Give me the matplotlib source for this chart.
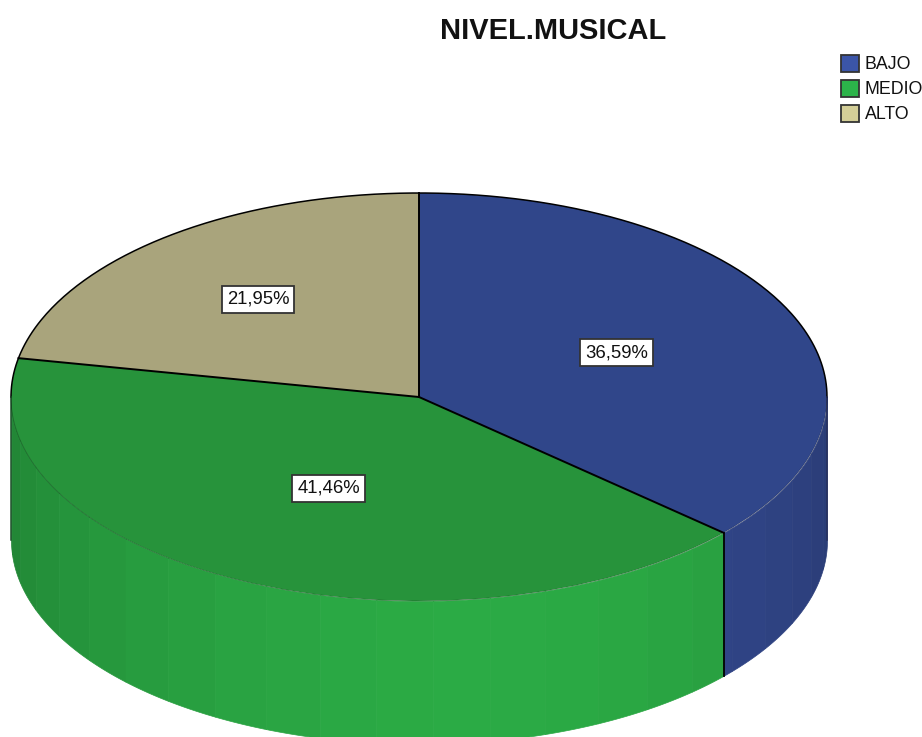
import numpy as np
import matplotlib
matplotlib.use('Agg')
import matplotlib.pyplot as plt
from matplotlib.patches import Patch
from matplotlib.colors import to_rgb

plt.rcParams['font.family'] = ['Liberation Sans', 'DejaVu Sans']

categorias = ['BAJO', 'MEDIO', 'ALTO']
porcentajes = [36.59, 41.46, 21.95]
etiquetas = ['36,59%', '41,46%', '21,95%']
colores_tapa = ['#30468a', '#27933b', '#a9a47c']
colores_lado = ['#33498f', '#2bab45', '#a9a47c']
colores_leyenda = ['#3b55a8', '#2cb34a', '#d3ce97']
radio_etiqueta = [0.53, 0.50, 0.62]

W, H = 922, 737
RX, RY = 408, 204   # radios de la elipse en pixeles
CX, CY = 419, 397   # centro de la tapa
prof = 143 / RY     # altura del cilindro
paso = 8            # ancho de cada banda de sombreado, en grados

fig = plt.figure(figsize=(W / 100, H / 100), dpi=100)
ax = fig.add_axes([0, 0, 1, 1])

# angulos de cada porcion, en sentido horario desde arriba
fin = 90 - 3.6 * np.cumsum(porcentajes)
ini = np.r_[90, fin[:-1]]

# lado del cilindro, solo la mitad de abajo se ve
for i in range(len(categorias)):
    a0, a1 = sorted((ini[i], fin[i]))
    for k in range(-1, 2):
        desde, hasta = max(a0 + 360 * k, 180), min(a1 + 360 * k, 360)
        if hasta <= desde:
            continue
        bordes = np.r_[desde, np.arange(np.ceil(desde / paso) * paso, hasta, paso), hasta]
        for b0, b1 in zip(bordes[:-1], bordes[1:]):
            t = np.radians(np.linspace(b0, b1, 12))
            f = 1 - 0.24 * (abs((b0 + b1) / 2 - 278) / 98) ** 1.5
            c = tuple(v * f for v in to_rgb(colores_lado[i]))
            x = np.cos(t)
            ax.fill_between(x, np.sin(t), np.sin(t) - prof, color=c, lw=0.5, zorder=1)

# tapa
ax.pie(porcentajes, colors=colores_tapa, startangle=90, counterclock=False,
       radius=1, wedgeprops={'linewidth': 0, 'zorder': 2})
ax.set_aspect('auto')
ax.set_xlim(-CX / RX, (W - CX) / RX)
ax.set_ylim((CY - H) / RY, CY / RY)

# bordes negros
for a in ini:
    t = np.radians(a)
    ax.plot([0, np.cos(t)], [0, np.sin(t)], color='black', lw=1.4, zorder=3)
t = np.radians(np.linspace(0, 180, 300))
ax.plot(np.cos(t), np.sin(t), color='black', lw=1.1, zorder=3)
t = np.radians(fin[0])
ax.plot([np.cos(t)] * 2, [np.sin(t), np.sin(t) - prof], color='black', lw=1.3, zorder=3)
ax.plot([-1, -1], [0, -prof], color='#1c4f28', lw=1.1, zorder=3)
ax.plot([1, 1], [0, -prof], color='#27305c', lw=1.1, zorder=3)
t = np.radians(np.linspace(180, 360, 300))
ax.plot(np.cos(t), np.sin(t), color='black', lw=0.5, alpha=0.3, zorder=3)

# etiquetas de porcentaje
medio = np.radians((ini + fin) / 2)
for i, txt in enumerate(etiquetas):
    ax.text(radio_etiqueta[i] * np.cos(medio[i]), radio_etiqueta[i] * np.sin(medio[i]), txt,
            ha='center', va='center', fontsize=13.3, color='#111111', zorder=5,
            bbox={'boxstyle': 'square,pad=0.27', 'fc': 'white', 'ec': '#333333', 'lw': 1.3})

fig.text(553.5 / W, 1 - 31 / H, 'NIVEL.MUSICAL', ha='center', va='center',
         fontsize=20.9, fontweight='bold', color='#111111')

handles = [Patch(facecolor=c, edgecolor='#333333', linewidth=1.3) for c in colores_leyenda]
fig.legend(handles, categorias, loc='upper left', bbox_to_anchor=(841 / W, 1 - 55 / H),
           frameon=False, fontsize=12.8, labelspacing=0.36, handlelength=1.04,
           handleheight=1.08, handletextpad=0.3, borderpad=0, borderaxespad=0,
           labelcolor='#111111')

fig.savefig('out.png', dpi=100)
